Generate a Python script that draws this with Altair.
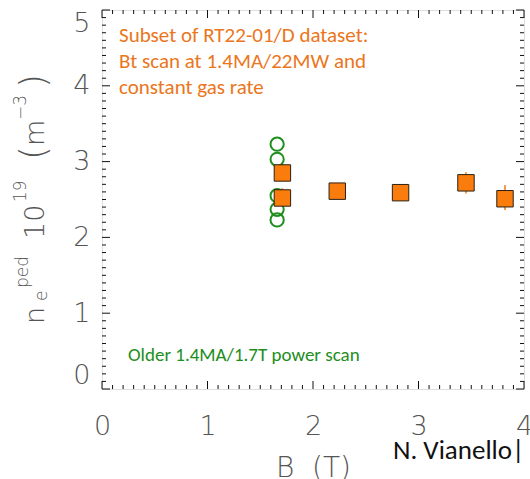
import altair as alt
import pandas as pd

# Older 1.4MA/1.7T power scan (green open circles)
old_b = [1.66, 1.66, 1.66, 1.66, 1.66]
old_ne = [3.23, 3.03, 2.55, 2.37, 2.23]

# RT22-01/D Bt scan subset (orange squares with error bars)
scan_b = [1.71, 1.71, 2.23, 2.83, 3.45, 3.82]
scan_ne = [2.85, 2.52, 2.61, 2.59, 2.72, 2.51]
scan_lo = [2.80, 2.45, 2.55, 2.55, 2.58, 2.36]
scan_hi = [2.90, 2.65, 2.68, 2.63, 2.86, 2.69]

# axis tick positions (major = integers, minor = tenths)
x_major = [0, 1, 2, 3, 4]
y_major = [0, 1, 2, 3, 4, 5]
x_minor = [i / 10 for i in range(0, 41) if i % 10]
y_minor = [i / 10 for i in range(0, 51) if i % 10]

W, H = 422, 379
ORANGE = "#F97C0D"
ORANGE_TXT = "#EB7620"
GREEN = "#1E8E1E"
AX_FONT = "DejaVu Sans"
AX_COLOR = "#555555"
ANN_FONT = "Carlito, Lato, sans-serif"

xs = alt.Scale(domain=[0, 4], nice=False, zero=False)
ys = alt.Scale(domain=[0, 5], nice=False, zero=False)

old_df = pd.DataFrame({"B": old_b, "ne": old_ne})
scan_df = pd.DataFrame({"B": scan_b, "ne": scan_ne, "lo": scan_lo, "hi": scan_hi})

x_axis = alt.Axis(
    values=x_major, ticks=False, domain=False, grid=False, labelFlush=False,
    labelFont=AX_FONT, labelFontSize=27, labelFontWeight=200, labelColor=AX_COLOR,
    labelPadding=24, title="B\u00a0\u00a0(T)", titleFont=AX_FONT, titleFontSize=28,
    titleFontWeight=200, titleColor=AX_COLOR, titleY=87, titleBaseline="alphabetic",
)
y_axis = alt.Axis(
    values=y_major, ticks=False, domain=False, grid=False, labelFlush=True,
    labelFont=AX_FONT, labelFontSize=27, labelFontWeight=200, labelColor=AX_COLOR,
    labelPadding=12, title=None,
)

X = alt.X("B:Q", scale=xs, axis=x_axis)
Y = alt.Y("ne:Q", scale=ys, axis=y_axis)

circles = alt.Chart(old_df).mark_point(
    shape="circle", filled=False, size=175, strokeWidth=2, color=GREEN, opacity=1
).encode(x=X, y=Y)

errs = alt.Chart(scan_df).mark_rule(color="#EE9A50", strokeWidth=2).encode(
    x=X, y=alt.Y("lo:Q", scale=ys, axis=y_axis), y2="hi:Q"
)

squares = alt.Chart(scan_df).mark_point(
    shape="square", filled=True, size=270, fill=ORANGE, stroke="#2B2015",
    strokeWidth=1, opacity=1,
).encode(x=X, y=Y)

# inward ticks on all four sides
def tick_layer(vals, axis, length):
    df = pd.DataFrame({"v": vals})
    ch = alt.Chart(df).mark_rule(color="#111111", strokeWidth=1)
    if axis == "x":
        xe = alt.X("v:Q", scale=xs, axis=x_axis)
        return ch.encode(x=xe, y=alt.value(H), y2=alt.value(H - length)) + \
            ch.encode(x=xe, y=alt.value(0), y2=alt.value(length))
    ye = alt.Y("v:Q", scale=ys, axis=y_axis)
    return ch.encode(y=ye, x=alt.value(0), x2=alt.value(length)) + \
        ch.encode(y=ye, x=alt.value(W), x2=alt.value(W - length))

ticks = (tick_layer(x_minor, "x", 4) + tick_layer(x_major, "x", 8)
         + tick_layer(y_minor, "y", 4) + tick_layer(y_major, "y", 8))

# annotation texts
def label(text, x, y, color, size, font=ANN_FONT, angle=0, weight="normal",
          baseline="middle"):
    return alt.Chart(pd.DataFrame({"t": [text]})).mark_text(
        align="left", baseline=baseline, font=font, fontSize=size,
        fontWeight=weight, color=color, angle=angle,
    ).encode(text="t:N", x=alt.value(x), y=alt.value(y))

ann = (
    label("Subset of RT22-01/D dataset:", 17, 26, ORANGE_TXT, 21)
    + label("Bt scan at 1.4MA/22MW and", 17, 52, ORANGE_TXT, 21)
    + label("constant gas rate", 17, 78, ORANGE_TXT, 21)
    + label("Older 1.4MA/1.7T power scan", 26, 345, GREEN, 19)
    + label("N. Vianello|", 291, 449, "#111111", 27, baseline="alphabetic")
)

# rotated y title: n_e^ped 10^19 (m^-3)
def ytxt(text, x, y, size, baseline="alphabetic"):
    return label(text, x, y, AX_COLOR, size, font=AX_FONT, angle=270,
                 weight=200, baseline=baseline)

ytitle = (
    ytxt("n", -58, 314, 27)
    + ytxt("e", -55, 291, 17)
    + ytxt("ped", -74, 278, 17)
    + ytxt("10", -58, 229, 27)
    + ytxt("19", -76, 192, 17)
    + ytxt("(", -68, 150, 36, baseline="middle")
    + ytxt("m", -58, 136, 27)
    + ytxt("\u22123", -76, 110, 17)
    + ytxt(")", -68, 78, 36, baseline="middle")
)

chart = alt.layer(circles, errs, squares, ticks, ann, ytitle).properties(
    width=W, height=H,
    autosize=alt.AutoSizeParams(type="none"),
    padding={"left": 102, "top": 10, "right": 6, "bottom": 90},
).configure_view(stroke="#111111", strokeWidth=1.2).configure(background="white")

chart.save("out.html", embed_options={"renderer": "svg", "actions": False})
